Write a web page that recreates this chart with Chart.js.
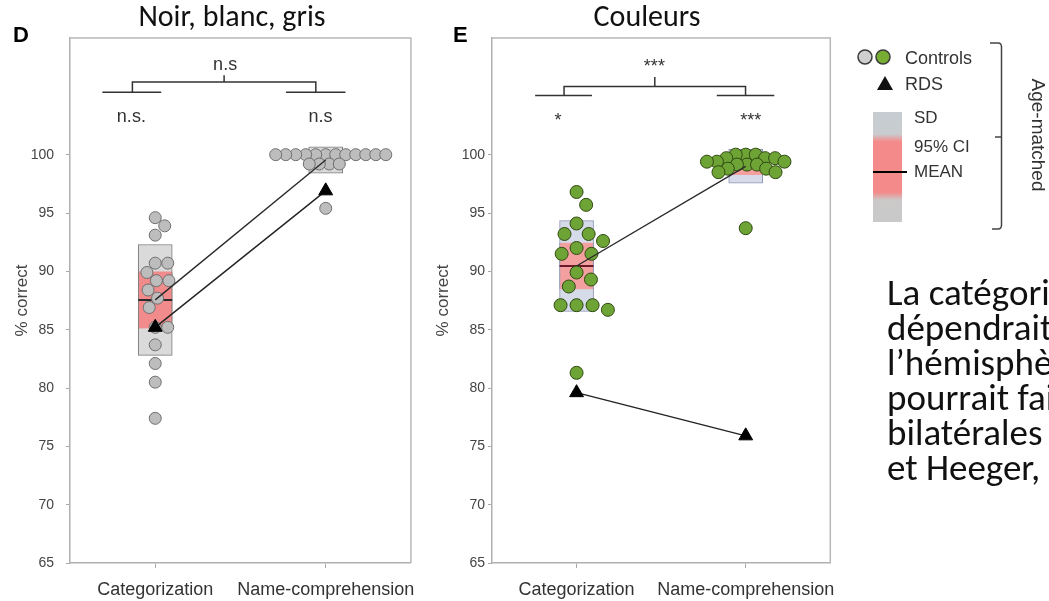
<!DOCTYPE html>
<html lang="fr">
<head>
<meta charset="utf-8">
<title>Catégorisation et compréhension des noms de couleurs</title>
<script src="https://cdn.jsdelivr.net/npm/chart.js@4.4.1/dist/chart.umd.min.js"></script>
<style>
  html, body { margin: 0; padding: 0; background: #fff; }
  #page { position: relative; width: 1049px; height: 601px; overflow: hidden; background: #fff; }
  canvas { position: absolute; top: 0; }
  #chartD { left: 0; }
  #chartE { left: 430px; }
  #overlay { position: absolute; left: 0; top: 0; pointer-events: none; }
  .lbl { font-family: "Liberation Sans", Arial, sans-serif; fill: #333; }
  .cal { font-family: Carlito, Lato, "Open Sans", sans-serif; fill: #111; }
</style>
</head>
<body>
<div id="page">
  <canvas id="chartD" width="430" height="601"></canvas>
  <canvas id="chartE" width="420" height="601"></canvas>

  <svg id="overlay" width="1049" height="601">
    <defs>
      <linearGradient id="band" x1="0" y1="0" x2="0" y2="1">
        <stop offset="0" stop-color="#c6ccd1"/>
        <stop offset="0.2" stop-color="#c9cdd0"/>
        <stop offset="0.27" stop-color="#f48a8a"/>
        <stop offset="0.73" stop-color="#f48a8a"/>
        <stop offset="0.8" stop-color="#cbc8c8"/>
        <stop offset="1" stop-color="#c9c9c9"/>
      </linearGradient>
    </defs>

    <!-- lettres de panneau et titres -->
    <text class="lbl" x="13" y="42" font-size="22" font-weight="bold" style="fill:#000">D</text>
    <text class="lbl" x="453" y="42" font-size="22" font-weight="bold" style="fill:#000">E</text>
    <text class="cal" x="232" y="26" font-size="30" text-anchor="middle">Noir, blanc, gris</text>
    <text class="cal" x="647" y="26" font-size="30" text-anchor="middle">Couleurs</text>

    <!-- légende -->
    <circle cx="865" cy="57" r="7" fill="#cfcfcf" stroke="#3a3a3a" stroke-width="1.5"/>
    <circle cx="883" cy="57" r="7" fill="#76ad32" stroke="#3a3a3a" stroke-width="1.5"/>
    <text class="lbl" x="905" y="63.5" font-size="18">Controls</text>
    <polygon points="877,90 893,90 885,76" fill="#111"/>
    <text class="lbl" x="905" y="89.5" font-size="18">RDS</text>
    <rect x="873" y="112" width="29" height="110" fill="url(#band)"/>
    <line x1="873" y1="172" x2="907" y2="172" stroke="#000" stroke-width="2.2"/>
    <text class="lbl" x="914" y="123" font-size="17">SD</text>
    <text class="lbl" x="914" y="152" font-size="17">95% CI</text>
    <text class="lbl" x="914" y="177" font-size="17">MEAN</text>
    <path d="M990,43 H998 Q1001.5,43 1001.5,47 V225 Q1001.5,229 998,229 H992" fill="none" stroke="#444" stroke-width="1.5"/>
    <path d="M995,137 H1001.5" fill="none" stroke="#444" stroke-width="1.5"/>
    <text class="lbl" font-size="19" text-anchor="middle" dominant-baseline="central"
          transform="translate(1038,135) rotate(90)">Age-matched</text>

    <!-- texte de la diapositive, coupé au bord -->
    <text class="cal" x="887" y="305" font-size="37">La catégorisation</text>
    <text class="cal" x="887" y="340" font-size="37">dépendrait</text>
    <text class="cal" x="887" y="375" font-size="37">l’hémisphère</text>
    <text class="cal" x="887" y="410" font-size="37">pourrait faire</text>
    <text class="cal" x="887" y="445" font-size="37">bilatérales</text>
    <text class="cal" x="887" y="480" font-size="37">et Heeger,</text>
  </svg>
</div>

<script>
const categories = ["Categorization", "Name-comprehension"];
const yTicks = [65, 70, 75, 80, 85, 90, 95, 100];

// D : noir, blanc, gris (% correct de chaque contrôle)
const grisCategorization = [94.6, 93.9, 93.1, 90.7, 90.7, 89.9, 89.2, 89.2, 88.4, 87.7, 86.9, 85.2, 85.2, 83.7, 82.1, 80.5, 77.4];
const grisNameComprehension = [100, 100, 100, 100, 100, 100, 100, 100, 100, 100, 100, 100, 99.2, 99.2, 99.2, 99.2, 95.4];
const grisRDS = [85.2, 96.9];

// E : couleurs
const couleurCategorization = [96.8, 95.7, 94.1, 93.2, 93.2, 92.6, 92.0, 91.5, 91.5, 89.9, 89.3, 88.7, 87.1, 87.1, 87.1, 86.7, 81.3];
const couleurNameComprehension = [100, 100, 100, 99.7, 99.7, 99.7, 99.4, 99.4, 99.4, 99.15, 99.15, 99.15, 98.8, 98.8, 98.5, 98.5, 93.7];
const couleurRDS = [79.6, 75.9];

// significativité : [global, Categorization, Name-comprehension]
const sigTextD = ["n.s", "n.s.", "n.s"];
const sigXD = [1.41, 0.86, 1.97];
const sigYD = [107.7, 103.25, 103.25];
const sigTextE = ["***", "*", "***"];
const sigXE = [1.46, 0.89, 2.03];
const sigYE = [107.5, 102.9, 102.9];

// accolades de comparaison : bras [g1, g2, d1, d2], pieds, niveaux [bras, pont, pointe]
const armsD = [0.69, 1.035, 1.767, 2.116];
const feetD = [0.866, 1.942];
const levelsD = [105.36, 106.22, 106.8];
const armsE = [0.755, 1.091, 1.829, 2.169];
const feetE = [0.926, 1.999];
const levelsE = [105.08, 105.85, 106.65];

Chart.defaults.font.family = '"Liberation Sans", Arial, sans-serif';
Chart.defaults.animation = false;

function stats(vals) {
  const n = vals.length;
  const mean = vals.reduce((a, b) => a + b, 0) / n;
  const sd = Math.sqrt(vals.reduce((a, v) => a + (v - mean) ** 2, 0) / (n - 1));
  const ci = 2.12 * sd / Math.sqrt(n); // t(0.975, ddl = 16)
  return { mean, sd, ci };
}

function seg(points) {
  return {
    type: "scatter", showLine: true, data: points, pointRadius: 0,
    borderColor: "#333", borderWidth: 1.5, order: 1,
  };
}

// disposition en essaim (beeswarm) calculée en pixels
function swarm(chart, dsIndex, center, vals, d) {
  const xs = chart.scales.x, ys = chart.scales.y;
  const cx = xs.getPixelForValue(center);
  const items = vals.map((v, i) => ({ i, py: ys.getPixelForValue(v) })).sort((a, b) => a.py - b.py);
  const placed = [];
  const off = [];
  items.forEach((it) => {
    const cands = [0];
    placed.forEach((p) => {
      const dy = it.py - p.py;
      if (Math.abs(dy) < d) {
        const dx = Math.sqrt(d * d - dy * dy) + 0.01;
        cands.push(p.x + dx, p.x - dx);
      }
    });
    cands.sort((a, b) => Math.abs(a) - Math.abs(b));
    const x = cands.find((c) => placed.every((p) => (c - p.x) ** 2 + (it.py - p.py) ** 2 >= d * d - 0.5));
    placed.push({ x, py: it.py });
    off[it.i] = x;
  });
  chart.data.datasets[dsIndex].data = vals.map((v, i) => ({ x: xs.getValueForPixel(cx + off[i]), y: v }));
}

function buildChart(id, c) {
  const s = [stats(c.cat), stats(c.name)];
  const pos = [1, 2];

  const framePlugin = {
    id: "frame",
    beforeDatasetsDraw(chart) {
      const { ctx, chartArea: a } = chart;
      ctx.save();
      ctx.strokeStyle = "#b8b8b8";
      ctx.lineWidth = 1.5;
      ctx.beginPath();
      ctx.moveTo(a.left, a.top);
      ctx.lineTo(a.right, a.top);
      ctx.lineTo(a.right, a.bottom);
      ctx.stroke();
      ctx.restore();
    },
  };

  const sigPlugin = {
    id: "sigText",
    afterDatasetsDraw(chart) {
      const { ctx, scales } = chart;
      ctx.save();
      ctx.font = '18px "Liberation Sans", Arial, sans-serif';
      ctx.fillStyle = "#333";
      ctx.textAlign = "center";
      ctx.textBaseline = "middle";
      c.sigText.forEach((t, i) => {
        ctx.fillText(t, scales.x.getPixelForValue(c.sigX[i]), scales.y.getPixelForValue(c.sigY[i]));
      });
      ctx.restore();
    },
  };

  const mid = (c.feet[0] + c.feet[1]) / 2;

  const chart = new Chart(document.getElementById(id), {
    type: "scatter",
    data: {
      datasets: [
        // 0, 1 : nuages des contrôles
        { type: "scatter", data: c.cat.map((v) => ({ x: 1, y: v })), pointRadius: c.r,
          backgroundColor: c.dotFill, borderColor: c.dotBorder, borderWidth: 1, order: 5 },
        { type: "scatter", data: c.name.map((v) => ({ x: 2, y: v })), pointRadius: c.r,
          backgroundColor: c.dotFill, borderColor: c.dotBorder, borderWidth: 1, order: 5 },
        // SD
        { type: "bar", data: pos.map((x, i) => ({ x, y: [s[i].mean - s[i].sd, s[i].mean + s[i].sd] })),
          backgroundColor: c.sdFill, borderColor: c.sdBorder, borderWidth: 1, borderSkipped: false,
          barThickness: 34, grouped: false, order: 9 },
        // IC 95 %
        { type: "bar", data: pos.map((x, i) => ({ x, y: [s[i].mean - s[i].ci, s[i].mean + s[i].ci] })),
          backgroundColor: c.ciFill, borderColor: c.sdBorder, borderWidth: { left: 1, right: 1, top: 0, bottom: 0 },
          borderSkipped: false, barThickness: 34, grouped: false, order: 8 },
        // moyenne
        { type: "scatter", data: pos.map((x, i) => ({ x, y: s[i].mean })), pointStyle: "line",
          pointRadius: 17, borderColor: c.meanColor, borderWidth: 2, order: 7 },
        // liaison des moyennes
        { type: "scatter", showLine: true, data: pos.map((x, i) => ({ x, y: s[i].mean })), pointRadius: 0,
          borderColor: "#2a2a2a", borderWidth: 1.4, order: 3 },
        // RDS
        { type: "scatter", showLine: true, data: pos.map((x, i) => ({ x, y: c.rds[i] })),
          pointStyle: "triangle", pointRadius: 8, pointBackgroundColor: "#000", pointBorderColor: "#000",
          pointBorderWidth: 1, borderColor: "#222", borderWidth: 1.4, order: 2 },
        // accolades
        seg([{ x: c.arms[0], y: c.levels[0] }, { x: c.arms[1], y: c.levels[0] }]),
        seg([{ x: c.arms[2], y: c.levels[0] }, { x: c.arms[3], y: c.levels[0] }]),
        seg([{ x: c.feet[0], y: c.levels[0] }, { x: c.feet[0], y: c.levels[1] },
             { x: c.feet[1], y: c.levels[1] }, { x: c.feet[1], y: c.levels[0] }]),
        seg([{ x: mid, y: c.levels[1] }, { x: mid, y: c.levels[2] }]),
      ],
    },
    options: {
      responsive: false,
      events: [],
      layout: { padding: { top: 38, right: c.padRight, bottom: 0, left: 0 } },
      plugins: { legend: { display: false }, tooltip: { enabled: false } },
      scales: {
        x: {
          type: "linear", min: 0.5, max: 2.5, offset: false,
          afterBuildTicks: (sc) => { sc.ticks = pos.map((v) => ({ value: v })); },
          afterFit: (sc) => { sc.height = 38; },
          ticks: { callback: (v) => categories[Math.round(v) - 1], font: { size: 18 }, color: "#333",
                   padding: 11, maxRotation: 0, autoSkip: false },
          grid: { drawOnChartArea: false, offset: false, tickLength: 5, color: "#a8a8a8" },
          border: { color: "#b0b0b0", width: 1.5 },
        },
        y: {
          type: "linear", min: 65, max: 110, beginAtZero: false,
          afterBuildTicks: (sc) => { sc.ticks = yTicks.map((v) => ({ value: v })); },
          afterFit: (sc) => { sc.width = c.yWidth; },
          ticks: { font: { size: 14 }, color: "#444", padding: c.tickPad },
          title: { display: true, text: "% correct", font: { size: 17 }, color: "#444",
                   padding: { top: c.titlePad, bottom: 0 } },
          grid: { drawOnChartArea: false, tickLength: 4, color: "#a8a8a8" },
          border: { color: "#b0b0b0", width: 1.5 },
        },
      },
    },
    plugins: [framePlugin, sigPlugin],
  });

  swarm(chart, 0, 1, c.cat, c.dCat);
  swarm(chart, 1, 2, c.name, c.dName);
  chart.update("none");
  return chart;
}

buildChart("chartD", {
  cat: grisCategorization, name: grisNameComprehension, rds: grisRDS,
  dotFill: "#bdbdbd", dotBorder: "#6f6f6f", r: 6, dCat: 12.5, dName: 10,
  sdFill: "#dadada", sdBorder: "#7c7c7c", ciFill: "#f28b8b", meanColor: "#2b2b2b",
  sigText: sigTextD, sigX: sigXD, sigY: sigYD, arms: armsD, feet: feetD, levels: levelsD,
  yWidth: 70, padRight: 16, tickPad: 12, titlePad: 12,
});

buildChart("chartE", {
  cat: couleurCategorization, name: couleurNameComprehension, rds: couleurRDS,
  dotFill: "#6ea336", dotBorder: "#2f4a10", r: 6.5, dCat: 16, dName: 10,
  sdFill: "#d5dbe8", sdBorder: "#8f97b5", ciFill: "#f5a0a0", meanColor: "#6b1a2a",
  sigText: sigTextE, sigX: sigXE, sigY: sigYE, arms: armsE, feet: feetE, levels: levelsE,
  yWidth: 62, padRight: 15, tickPad: 3, titlePad: 3,
});
</script>
</body>
</html>
